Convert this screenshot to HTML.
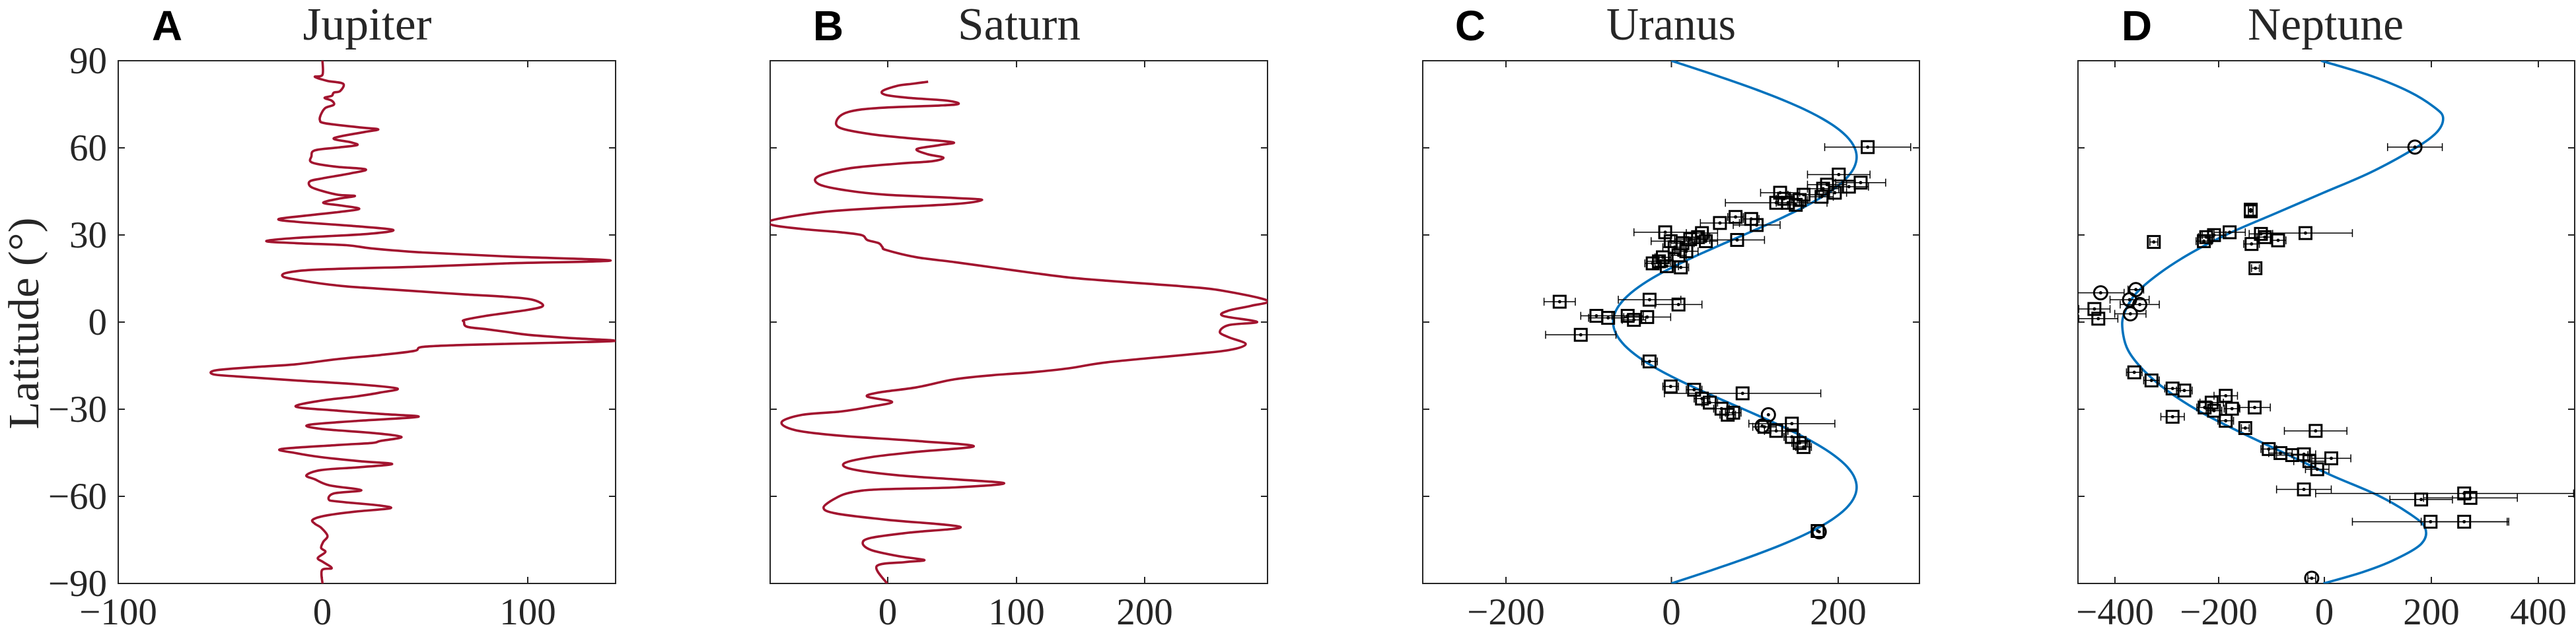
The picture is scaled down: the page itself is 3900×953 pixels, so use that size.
<!DOCTYPE html>
<html><head><meta charset="utf-8">
<style>
html,body{margin:0;padding:0;background:#fff;}
svg{display:block;}
.t{font-family:"Liberation Serif",serif;fill:#262626;}
.L{font-family:"Liberation Sans",sans-serif;font-weight:bold;fill:#000;}
</style></head>
<body>
<svg id="s" width="3900" height="953" viewBox="0 0 3900 953" xmlns="http://www.w3.org/2000/svg">
<defs>
<clipPath id="cA"><rect x="179" y="92" width="753" height="792"/></clipPath>
<clipPath id="cB"><rect x="1166" y="92" width="753" height="792"/></clipPath>
<clipPath id="cC"><rect x="2154" y="92" width="752" height="792"/></clipPath>
<clipPath id="cD"><rect x="3146" y="92" width="752" height="792"/></clipPath>
</defs>
<g id="g"></g>
<text class="L" x="253" y="61" font-size="64" text-anchor="middle">A</text>
<text class="L" x="1254" y="61" font-size="64" text-anchor="middle">B</text>
<text class="L" x="2226" y="61" font-size="64" text-anchor="middle">C</text>
<text class="L" x="3235" y="61" font-size="64" text-anchor="middle">D</text>
<text class="t" x="556" y="60" font-size="70" text-anchor="middle" textLength="195" lengthAdjust="spacingAndGlyphs">Jupiter</text>
<text class="t" x="1543" y="60" font-size="70" text-anchor="middle" textLength="186" lengthAdjust="spacingAndGlyphs">Saturn</text>
<text class="t" x="2530" y="60" font-size="70" text-anchor="middle" textLength="196" lengthAdjust="spacingAndGlyphs">Uranus</text>
<text class="t" x="3521" y="60" font-size="70" text-anchor="middle" textLength="236" lengthAdjust="spacingAndGlyphs">Neptune</text>
<text class="t" transform="translate(58,490) rotate(-90)" font-size="66" text-anchor="middle" textLength="321" lengthAdjust="spacingAndGlyphs">Latitude (°)</text>
</svg>
<script>
var NS="http://www.w3.org/2000/svg",G=document.getElementById('g');
function el(t,a,p){var e=document.createElementNS(NS,t);for(var k in a)e.setAttribute(k,a[k]);(p||G).appendChild(e);return e;}
function txt(x,y,s,anch){var e=el('text',{x:x,y:y,'class':'t','font-size':57,'text-anchor':anch});e.textContent=s;}
var T=92,B=884;
function Ylat(l){return 488-l*4.4;}
var ax=[[179,932,[[179,'−100'],[488,'0'],[799,'100']],true],
        [1166,1919,[[1344,'0'],[1539,'100'],[1733,'200']],false],
        [2154,2906,[[2280,'−200'],[2530.5,'0'],[2783,'200']],false],
        [3146,3898,[[3202,'−400'],[3359,'−200'],[3519,'0'],[3681,'200'],[3843,'400']],false]];
ax.forEach(function(a){
  var L=a[0],R=a[1];
  el('rect',{x:L,y:T,width:R-L,height:B-T,fill:'none',stroke:'#262626','stroke-width':2});
  for(var l=-60;l<=60;l+=30){var y=Ylat(l);
    el('line',{x1:L,x2:L+10,y1:y,y2:y,stroke:'#262626','stroke-width':2});
    el('line',{x1:R-10,x2:R,y1:y,y2:y,stroke:'#262626','stroke-width':2});}
  a[2].forEach(function(t){
    if(t[0]>L+2&&t[0]<R-2){
    el('line',{x1:t[0],x2:t[0],y1:T,y2:T+10,stroke:'#262626','stroke-width':2});
    el('line',{x1:t[0],x2:t[0],y1:B-10,y2:B,stroke:'#262626','stroke-width':2});}
    txt(t[0],946,t[1],'middle');
  });
  if(a[3]){[90,60,30,0,-30,-60,-90].forEach(function(l){txt(162,Ylat(l)+19,(l<0?'−':'')+Math.abs(l),'end');});}
});
function smooth(p){var d='M'+p[0][0].toFixed(1)+','+p[0][1].toFixed(1);
  for(var i=0;i<p.length-1;i++){var p0=p[i-1]||p[i],p1=p[i],p2=p[i+1],p3=p[i+2]||p2;
    d+='C'+(p1[0]+(p2[0]-p0[0])/6).toFixed(1)+','+(p1[1]+(p2[1]-p0[1])/6).toFixed(1)+' '+
      (p2[0]-(p3[0]-p1[0])/6).toFixed(1)+','+(p2[1]-(p3[1]-p1[1])/6).toFixed(1)+' '+p2[0].toFixed(1)+','+p2[1].toFixed(1);}
  return d;}
function zy(y){return 92+(y-153)*0.6116;}
var jup=[[763,153],[763,188],[745,193],[775,203],[812,210],[805,228],[790,232],[785,240],[768,245],[785,252],[790,262],[770,270],[760,285],[757,300],[770,308],[850,318],[895,323],[860,330],[790,345],[830,355],[845,362],[800,368],[745,375],[737,390],[738,405],[790,415],[865,422],[830,432],[760,445],[733,452],[735,465],[760,475],[800,485],[840,488],[800,495],[765,505],[810,512],[850,520],[800,528],[740,535],[660,545],[700,552],[830,562],[930,572],[870,582],[700,592],[630,600],[700,605],[820,610],[880,618],[1000,628],[1200,638],[1445,648],[1200,655],[1000,663],[760,670],[680,678],[670,688],[700,695],[760,705],[820,712],[900,718],[1000,725],[1100,732],[1200,738],[1260,745],[1285,760],[1250,770],[1150,785],[1100,795],[1098,800],[1105,812],[1150,818],[1200,825],[1250,832],[1350,840],[1455,847],[1300,852],[1100,857],[1000,862],[980,872],[900,882],[800,892],[700,905],[600,912],[510,920],[505,930],[560,935],[700,945],[850,955],[940,965],[900,975],[840,985],[760,995],[700,1010],[800,1020],[900,1028],[990,1035],[850,1045],[730,1055],[760,1065],[880,1075],[950,1085],[900,1095],[880,1100],[800,1105],[665,1115],[700,1125],[760,1135],[850,1145],[928,1152],[850,1160],[760,1167],[725,1180],[745,1190],[780,1205],[855,1217],[790,1225],[778,1240],[800,1245],[900,1255],[922,1262],[840,1270],[770,1280],[740,1290],[745,1300],[760,1310],[775,1330],[765,1345],[760,1360],[770,1370],[752,1385],[765,1395],[785,1410],[762,1415],[763,1448]];
var sat=[[530,205],[490,210],[450,215],[410,228],[420,238],[480,245],[580,252],[610,260],[560,264],[400,270],[320,280],[290,300],[300,320],[380,335],[480,345],[595,355],[560,362],[500,372],[530,385],[570,393],[540,402],[450,408],[320,420],[240,440],[245,460],[320,475],[420,485],[600,493],[672,498],[600,508],[400,518],[250,528],[120,548],[120,560],[200,570],[300,578],[355,585],[370,597],[400,605],[410,615],[420,622],[500,640],[600,652],[700,665],[800,678],[900,690],[1000,698],[1100,705],[1200,712],[1300,722],[1422,747],[1380,760],[1320,772],[1305,785],[1395,800],[1320,808],[1297,825],[1320,838],[1365,855],[1320,870],[1200,882],[1000,900],[900,915],[800,925],[700,932],[600,942],[500,962],[400,975],[370,985],[435,998],[380,1010],[300,1022],[200,1030],[145,1048],[180,1068],[300,1082],[500,1095],[650,1108],[500,1122],[380,1135],[310,1150],[330,1165],[450,1180],[600,1190],[730,1200],[600,1210],[400,1215],[330,1222],[290,1235],[255,1260],[290,1275],[420,1290],[615,1308],[480,1322],[380,1335],[358,1348],[380,1365],[450,1380],[520,1390],[470,1395],[395,1405],[422,1448]];
function curve(pts,fx,clip,col){var p=pts.map(function(q){return [fx(q[0]),zy(q[1])];});
  el('path',{d:smooth(p),fill:'none',stroke:col,'stroke-width':3.6,'stroke-linejoin':'round','clip-path':'url(#'+clip+')'});}
curve(jup,function(x){return x*0.6398;},'cA','#A2142F');
curve(sat,function(x){return 1100+x*0.5758;},'cB','#A2142F');
function z2(x){return 2050+x*1.1836;}
var up=[];for(var l=90;l>=-90;l-=2){var r=l*Math.PI/180;var u=100*Math.cos(r)-170*Math.cos(3*r);up.push([2530.5+u*1.261,Ylat(l)]);}
el('path',{d:smooth(up),fill:'none',stroke:'#0072BD','stroke-width':3.6,'clip-path':'url(#cC)'});
var nb=[[1237,153],[1300,190],[1350,230],[1383,270],[1393,295],[1385,330],[1357,370],[1300,430],[1240,480],[1180,530],[1120,580],[1070,630],[1030,680],[1000,730],[985,780],[983,820],[990,870],[1010,920],[1040,970],[1080,1020],[1130,1070],[1190,1125],[1250,1180],[1310,1230],[1350,1275],[1370,1310],[1365,1350],[1330,1390],[1290,1420],[1240,1448]];
curve(nb,z2,'cD','#0072BD');
function pt(q,clip){var x=z2(q[0]),y=zy(q[1]),l=q[2]*1.1836,r=(q[3]!=null?q[3]:q[2])*1.1836,c=q[4];
  var g=el('g',{'clip-path':'url(#'+clip+')'});
  if(l>3||r>3){el('line',{x1:x-l,x2:x+r,y1:y,y2:y,stroke:'#000','stroke-width':1.5},g);
    el('line',{x1:x-l,x2:x-l,y1:y-6,y2:y+6,stroke:'#000','stroke-width':1.5},g);
    el('line',{x1:x+r,x2:x+r,y1:y-6,y2:y+6,stroke:'#000','stroke-width':1.5},g);}
  if(c)el('circle',{cx:x,cy:y,r:10,fill:'none',stroke:'#000','stroke-width':3},g);
  else el('rect',{x:x-9,y:y-9,width:18,height:18,fill:'none',stroke:'#000','stroke-width':3},g);
  el('circle',{cx:x,cy:y,r:2.5,fill:'#000'},g);}
var U=[[657,367,55],[620,435,40],[648,455,32],[633,465,25],[605,460,25],[600,470,20],[615,480,15],[598,490,15],[575,485,20],[545,480,25],[540,505,65],[555,505,15],[565,510,10],[570,498,10],[550,495,10],[488,540,10],[508,545,10],[515,560,30],[468,555,25],[490,597,35],[398,578,40],[445,580,20],[440,590,15],[450,600,15],[430,595,20],[420,605,15],[405,600,25],[410,615,15],[425,625,15],[415,635,10],[395,640,10],[390,650,15],[382,655,10],[400,662,15],[418,665,10],[378,745,40],[415,757,30],[263,750,20],[310,785,20],[325,790,25],[350,785,20],[358,795,15],[375,788,30],[290,832,45],[378,898,10],[405,960,10],[435,968,10],[497,977,100],[445,990,10],[455,1000,10],[470,1015,10],[485,1025,10],[478,1030,10],[560,1052,55],[525,1060,15],[540,1070,15],[560,1085,10],[570,1100,10],[575,1110,10],[530,1030,0,0,1],[522,1058,0,0,1],[593,1318,0],[595,1320,0,0,1]];
U.forEach(function(q){pt(q,'cC');});
var N=[[1357,367,35,35,1],[1147,522,3],[1147,526,3],[1023,602,5],[1087,600,10],[1100,585,15],[1120,578,20],[1090,590,10],[1160,582,15],[1165,590,10],[1148,607,10],[1182,598,10],[1217,580,60],[1153,667,5],[955,728,30,30,1],[1000,720,10,10,1],[992,745,25,25,1],[1005,757,25,25,1],[993,780,20,20,1],[947,768,20],[952,792,25],[998,925,10],[1020,945,10],[1047,965,10],[1062,970,10],[1115,983,15],[1088,1012,10],[1097,1000,15],[1100,1020,10],[1123,1015,10],[1152,1012,20],[1047,1035,15],[1115,1045,10],[1140,1063,5],[1230,1070,40],[1170,1115,10],[1185,1125,15],[1200,1130,20],[1215,1128,15],[1222,1145,20],[1250,1138,25],[1232,1165,15],[1215,1215,35],[1420,1225,190,140],[1365,1240,40],[1428,1236,60],[1377,1295,100],[1420,1295,55],[1225,1435,5,5,1]];
N.forEach(function(q){pt(q,'cD');});
</script>
</body></html>
